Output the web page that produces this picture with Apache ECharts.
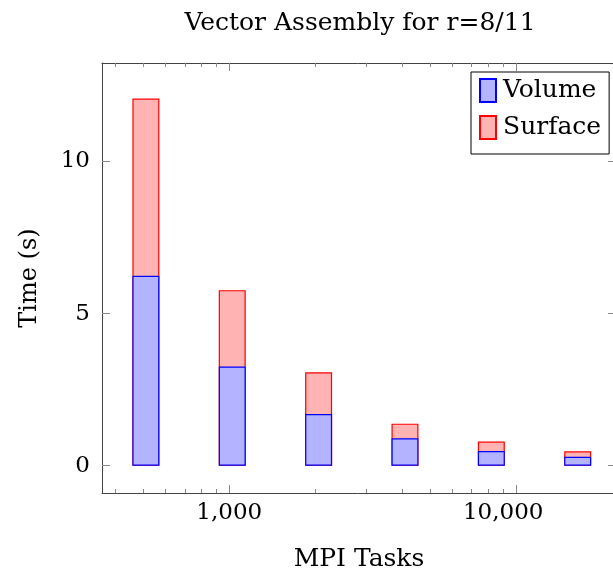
<!DOCTYPE html>
<html>
<head>
<meta charset="utf-8">
<script src="https://cdn.jsdelivr.net/npm/echarts@6/dist/echarts.min.js"></script>
<style>html,body{margin:0;padding:0;background:#fff}#c{width:613px;height:576px}</style>
</head>
<body>
<div id="c"></div>
<script>
var tasks = [512, 1024, 2048, 4096, 8192, 16384];
var volume = [6.24, 3.26, 1.70, 0.90, 0.48, 0.29];
var surface = [5.83, 2.51, 1.37, 0.48, 0.31, 0.18];
var xMajorTicks = [1000, 10000];
var xMinorTicks = [400, 500, 600, 700, 800, 900, 2000, 3000, 4000, 5000, 6000, 7000, 8000, 9000];
var yTicks = [0, 5, 10];

var FONT = 'DejaVu Serif';
var XMIN = 360, XMAX = 22280, YMIN = -0.9, YMAX = 13.24;

function fmt(v) { return Math.round(v).toString().replace(/\B(?=(\d{3})+(?!\d))/g, ','); }

function xAx(pos, custom, len, showLine, extra) {
  var a = {
    type: 'log', logBase: 10, min: XMIN, max: XMAX, position: pos,
    axisLine: { show: showLine, onZero: false, lineStyle: { color: '#444', width: 1 } },
    axisTick: { show: true, inside: true, length: len, customValues: custom, lineStyle: { color: '#888', width: 1 } },
    minorTick: { show: false },
    splitLine: { show: false },
    axisLabel: { show: false }
  };
  if (extra) for (var k in extra) a[k] = extra[k];
  return a;
}

var chart = echarts.init(document.getElementById('c'), null, { renderer: 'canvas' });
chart.setOption({
  animation: false,
  title: {
    text: 'Vector Assembly for r=8/11', left: 355, top: 6, textAlign: 'center',
    textStyle: { fontFamily: FONT, fontSize: 25, fontWeight: 'normal', color: '#000' }
  },
  grid: { left: 102, top: 63, width: 514, height: 430, containLabel: false, outerBoundsMode: 'none' },
  legend: {
    orient: 'vertical', left: 471, top: 72,
    padding: [6, 8, 14, 8], itemGap: 12, itemWidth: 16, itemHeight: 23,
    borderColor: '#000', borderWidth: 1, backgroundColor: '#fff',
    icon: 'rect',
    textStyle: { fontFamily: FONT, fontSize: 25, color: '#000', padding: [0, 0, 0, 2] },
    data: ['Volume', 'Surface']
  },
  xAxis: [
    xAx('bottom', xMajorTicks, 8, true, { name: 'MPI Tasks', nameLocation: 'middle', nameGap: 54, nameTextStyle: { fontFamily: FONT, fontSize: 25, color: '#000' } }),
    xAx('bottom', xMinorTicks, 4, false),
    xAx('top', xMajorTicks, 8, true),
    xAx('top', xMinorTicks, 4, false),
    {
      type: 'value', min: Math.log10(XMIN), max: Math.log10(XMAX), position: 'bottom',
      axisLine: { show: false, onZero: false }, axisTick: { show: false }, splitLine: { show: false },
      axisLabel: {
        show: true, customValues: xMajorTicks.map(function (v) { return Math.log10(v); }),
        formatter: function (e) {
          var s = fmt(Math.pow(10, e));
          return e > 3.5 ? '{w|' + s + '}' : '{n|' + s + '}';
        },
        rich: {
          n: { fontFamily: FONT, fontSize: 23, color: '#000' },
          w: { fontFamily: FONT, fontSize: 23, color: '#000', padding: [0, 26, 0, 0] }
        },
        align: 'center', hideOverlap: false,
        fontFamily: FONT, fontSize: 23, color: '#000', margin: 9
      }
    }
  ],
  yAxis: [
    {
      type: 'value', min: YMIN, max: YMAX, position: 'left',
      name: 'Time (s)', nameLocation: 'middle', nameGap: 60, nameRotate: 90,
      nameTextStyle: { fontFamily: FONT, fontSize: 24, color: '#000' },
      axisLine: { show: true, onZero: false, lineStyle: { color: '#444' } },
      axisTick: { show: true, inside: true, length: 8, customValues: yTicks, lineStyle: { color: '#888' } },
      axisLabel: { customValues: yTicks, fontFamily: FONT, fontSize: 23, color: '#000', margin: 12 },
      splitLine: { show: false }
    },
    {
      type: 'value', min: YMIN, max: YMAX, position: 'right',
      axisLine: { show: true, onZero: false, lineStyle: { color: '#444' } },
      axisTick: { show: true, inside: true, length: 8, customValues: yTicks, lineStyle: { color: '#888' } },
      axisLabel: { show: false },
      splitLine: { show: false }
    }
  ],
  series: [
    {
      name: 'Volume', type: 'bar', barWidth: 27, barGap: '-100%', z: 3,
      xAxisIndex: 0, yAxisIndex: 0,
      itemStyle: { color: '#b3b3ff', borderColor: '#0000ff', borderWidth: 1.2 },
      data: tasks.map(function (t, i) { return [t, volume[i]]; })
    },
    {
      name: 'Surface', type: 'bar', barWidth: 27, barGap: '-100%', z: 2,
      xAxisIndex: 0, yAxisIndex: 0,
      itemStyle: { color: '#ffb3b3', borderColor: '#ff0000', borderWidth: 1.2 },
      data: tasks.map(function (t, i) { return [t, volume[i] + surface[i]]; })
    }
  ]
});
</script>
</body>
</html>
